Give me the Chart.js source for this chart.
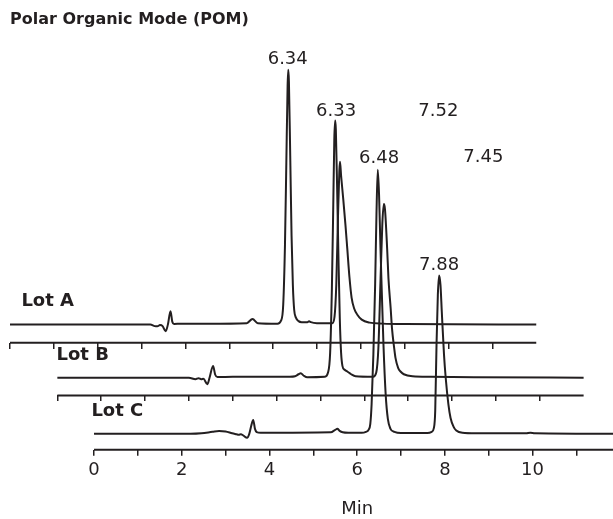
<!DOCTYPE html>
<html>
<head>
<meta charset="utf-8">
<script src="https://cdn.jsdelivr.net/npm/chart.js@4.4.1/dist/chart.umd.min.js"></script>
<style>
  html, body { margin: 0; padding: 0; background: #fff; }
  canvas { display: block; }
</style>
</head>
<body>
<canvas id="pomChart" width="613" height="519"></canvas>
<script>
// Chromatogram traces, time in min, signal in detector units
const timesA = [0, 3.2, 3.30, 3.36, 3.42, 3.48, 3.55, 3.60, 3.66, 3.70, 3.74, 3.9, 4.5, 5.4, 5.53, 5.65, 6.1, 6.18, 6.23, 6.27,
  6.30, 6.33, 6.345, 6.36, 6.39, 6.42, 6.45, 6.48, 6.52, 6.58, 6.65, 6.78, 6.82, 6.86, 7.0, 7.3, 7.35, 7.40, 7.44, 7.48,
  7.51, 7.525, 7.55, 7.60, 7.65, 7.69, 7.74, 7.79, 7.85, 7.92, 8.02, 8.2, 8.5, 9.0, 12];
const signalA = [0, 0, -1.5, -1.7, -0.5, -1.5, -6.7, 0, 13.4, 3, 0.7, 1, 1, 1.5, 5.7, 1.5, 1, 4, 20, 80,
  160, 240, 256.7, 245, 170, 90, 40, 15, 7, 3.5, 2.5, 2.5, 3.5, 2.5, 1.5, 1.5, 1.5, 8, 40, 110,
  155, 164, 150, 126, 100, 77, 48, 27, 16, 10, 5, 2, 1, 0.5, 0];

const timesB = [0, 3.0, 3.15, 3.22, 3.28, 3.33, 3.42, 3.47, 3.55, 3.60, 3.65, 4.0, 5.3, 5.42, 5.50, 5.55, 5.62, 5.70, 6.10, 6.17,
  6.22, 6.26, 6.29, 6.315, 6.335, 6.35, 6.38, 6.41, 6.44, 6.47, 6.50, 6.55, 6.62, 6.70, 6.80, 7.20, 7.27, 7.32, 7.37, 7.41,
  7.445, 7.47, 7.52, 7.55, 7.60, 7.63, 7.68, 7.71, 7.77, 7.83, 7.90, 8.1, 8.5, 9.5, 12];
const signalB = [0, 0, -1.5, -0.5, -1.5, -1, -6.5, 0, 11.9, 3, 0.7, 1, 1, 1.5, 3.5, 4.5, 2, 0.5, 1, 5,
  25, 90, 170, 240, 259, 250, 190, 120, 60, 25, 12, 8, 6, 3.5, 1.5, 1, 5, 30, 100, 155,
  175, 170, 130, 100, 70, 50, 30, 20, 10, 6, 3.5, 1.5, 1, 0.5, 0];

const timesC = [0, 2.2, 2.45, 2.7, 2.85, 3.0, 3.15, 3.25, 3.30, 3.35, 3.40, 3.49, 3.54, 3.59, 3.63, 3.67, 3.71, 3.8, 5.4, 5.5,
  5.55, 5.6, 5.67, 5.8, 6.1, 6.20, 6.26, 6.30, 6.33, 6.37, 6.41, 6.44, 6.47, 6.50, 6.53, 6.55, 6.60, 6.65, 6.70, 6.76,
  6.85, 7.0, 7.60, 7.70, 7.75, 7.78, 7.81, 7.84, 7.87, 7.90, 7.93, 7.98, 8.02, 8.08, 8.13, 8.20, 8.26, 8.40, 8.7, 9.85,
  9.95, 10.05, 12];
const signalC = [0, 0, 0.5, 2, 2.8, 2.3, 0.5, -0.5, -1, -0.5, -1.5, -4, 0, 9, 14, 5, 1.7, 1, 1.5, 4,
  5, 3, 1.5, 1, 1, 2, 4, 10, 30, 80, 150, 220, 266, 240, 190, 160, 90, 40, 15, 5,
  2, 0.8, 0.8, 2, 6, 23, 90, 140, 159.4, 150, 123, 80, 56, 30, 16, 7, 3.3, 1, 0.5, 0.5,
  1.2, 0.5, 0];

const lots = ["A", "B", "C"];
const tickValues = [0, 1, 2, 3, 4, 5, 6, 7, 8, 9, 10, 11];

// retention time labels (text, lot, where the text sits in that lot's units)
const peakText = ["6.34", "7.52", "6.33", "7.45", "6.48", "7.88"];
const peakLot = ["A", "A", "B", "B", "C", "C"];
const peakTime = [6.333, 9.767, 6.356, 9.715, 6.50, 7.868];
const peakLevel = [267.4, 214.4, 268.5, 221.9, 277.4, 169.4];

// offset "waterfall" layout for the three lots
const lotZero = [0, 1.08, 1.916];   // min between plot left edge and each lot's t=0
const lotLift = [126, 72.5, 16];    // baseline height above the plot bottom
const axisDrop = [18.3, 17.8, 16];  // axis line below each baseline
const axisEnd = 12;
const xSpan = 13.75;
const ySpan = 411.5;
const ink = "#231f20";

const traces = [[timesA, signalA], [timesB, signalB], [timesC, signalC]];

const datasets = [];
lots.forEach((lot, i) => {
  datasets.push({
    label: "Lot " + lot + " axis",
    data: [{ x: 0, y: -axisDrop[i] }, { x: axisEnd, y: -axisDrop[i] }],
    xAxisID: "x" + lot,
    yAxisID: "y" + lot,
    borderColor: ink,
    borderWidth: 2,
    pointRadius: 0,
    clip: false,
  });
  datasets.push({
    label: "Lot " + lot,
    data: traces[i][0].map((t, k) => ({ x: t, y: traces[i][1][k] })),
    xAxisID: "x" + lot,
    yAxisID: "y" + lot,
    borderColor: ink,
    borderWidth: 2,
    borderJoinStyle: "round",
    pointRadius: 0,
    cubicInterpolationMode: "monotone",
    clip: false,
  });
});

const scales = {};
lots.forEach((lot, i) => {
  const isMain = lot === "C";
  scales["x" + lot] = {
    type: "linear",
    axis: "x",
    position: isMain ? "bottom" : { ["y" + lot]: -axisDrop[i] },
    min: -lotZero[i],
    max: -lotZero[i] + xSpan,
    afterBuildTicks: (scale) => {
      scale.ticks = tickValues.map((v) => ({ value: v }));
    },
    grid: { display: true, drawOnChartArea: false, drawTicks: true, tickLength: 6, color: ink, lineWidth: 1.5 },
    border: { display: false },
    ticks: isMain
      ? {
          display: true,
          padding: 4,
          color: ink,
          autoSkip: false,
          maxRotation: 0,
          font: { family: "DejaVu Sans", size: 18 },
          callback: (v) => (v % 2 === 0 ? String(v) : ""),
        }
      : { display: false },
  };
  scales["y" + lot] = {
    type: "linear",
    axis: "y",
    display: false,
    min: -lotLift[i],
    max: -lotLift[i] + ySpan,
  };
});

// text drawn in data space of each lot
const textPlugin = {
  id: "pomText",
  afterDatasetsDraw(chart) {
    const ctx = chart.ctx;
    ctx.save();
    ctx.fillStyle = ink;
    ctx.textBaseline = "middle";

    ctx.textAlign = "center";
    ctx.font = "18px 'DejaVu Sans'";
    peakText.forEach((txt, k) => {
      const x = chart.scales["x" + peakLot[k]].getPixelForValue(peakTime[k]);
      const y = chart.scales["y" + peakLot[k]].getPixelForValue(peakLevel[k]);
      ctx.fillText(txt, x, y);
    });

    ctx.textAlign = "left";
    ctx.font = "bold 18px 'DejaVu Sans'";
    const lotTextTime = [0.26, -0.02, -0.06];
    lots.forEach((lot, i) => {
      const x = chart.scales["x" + lot].getPixelForValue(lotTextTime[i]);
      const y = chart.scales["y" + lot].getPixelForValue(23);
      ctx.fillText("Lot " + lot, x, y);
    });

    const xC = chart.scales.xC;
    ctx.textAlign = "center";
    ctx.font = "18px 'DejaVu Sans'";
    ctx.fillText("Min", xC.getPixelForValue(6), xC.bottom + 24);
    ctx.restore();
  },
};

const ctx = document.getElementById("pomChart").getContext("2d");
const pomChart = new Chart(ctx, {
  type: "line",
  data: { datasets: datasets },
  options: {
    responsive: false,
    animation: false,
    events: [],
    layout: { padding: { left: 10, right: 0, top: 0, bottom: 33.7 } },
    plugins: {
      legend: { display: false },
      tooltip: { enabled: false },
      title: {
        display: true,
        text: "Polar Organic Mode (POM)",
        align: "start",
        color: ink,
        font: { family: "DejaVu Sans", size: 16, weight: "bold" },
        padding: { top: 10, bottom: 12 },
      },
    },
    scales: scales,
  },
  plugins: [textPlugin],
});
</script>
</body>
</html>
